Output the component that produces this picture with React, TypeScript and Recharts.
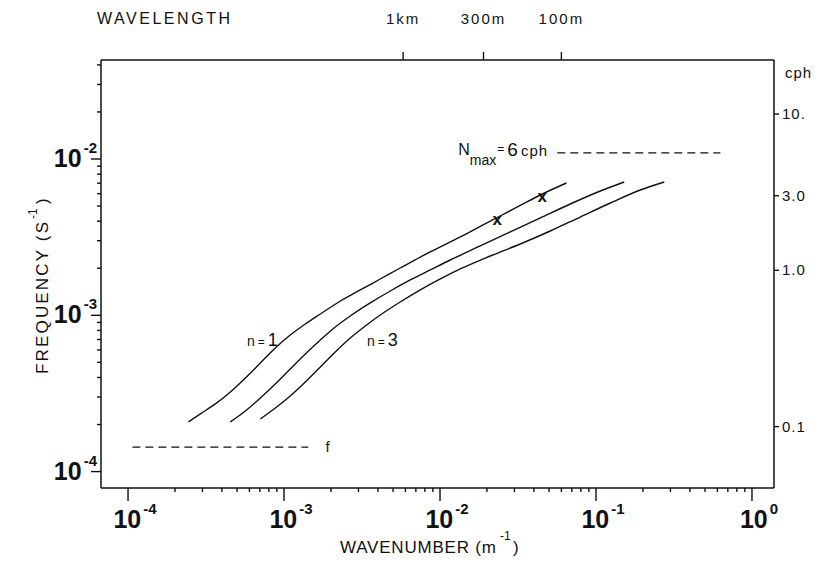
import React from 'react';
import { ComposedChart, Line, Scatter, XAxis, YAxis, ReferenceDot } from 'recharts';

// ---- data (wavenumber k in m^-1, frequency w in s^-1) ----
const n1K = [2.44e-4, 2.91e-4, 3.63e-4, 4.53e-4, 5.65e-4, 7.05e-4, 8.79e-4, 1.096e-3, 1.369e-3, 1.71e-3, 2.3e-3, 3.08e-3, 4.14e-3, 5.56e-3, 7.48e-3, 1.005e-2, 1.349e-2, 1.811e-2, 2.43e-2, 3.27e-2, 4.4e-2, 6.46e-2];
const n1W = [2.08e-4, 2.34e-4, 2.71e-4, 3.23e-4, 3.97e-4, 4.95e-4, 6.18e-4, 7.48e-4, 8.8e-4, 1.019e-3, 1.234e-3, 1.452e-3, 1.707e-3, 2.007e-3, 2.36e-3, 2.735e-3, 3.17e-3, 3.7e-3, 4.318e-3, 5.041e-3, 5.884e-3, 7.023e-3];

const n2K = [4.53e-4, 5.65e-4, 7.05e-4, 8.79e-4, 1.096e-3, 1.369e-3, 1.71e-3, 2.13e-3, 2.66e-3, 3.57e-3, 4.8e-3, 6.45e-3, 8.67e-3, 1.164e-2, 1.811e-2, 2.82e-2, 4.4e-2, 6.84e-2, 0.1066, 0.1517];
const n2W = [2.08e-4, 2.441e-4, 2.957e-4, 3.635e-4, 4.533e-4, 5.655e-4, 6.95e-4, 8.417e-4, 9.897e-4, 1.199e-3, 1.43e-3, 1.682e-3, 1.95e-3, 2.258e-3, 2.776e-3, 3.412e-3, 4.194e-3, 5.153e-3, 6.242e-3, 7.127e-3];

const n3K = [7.05e-4, 8.79e-4, 1.096e-3, 1.369e-3, 1.71e-3, 2.13e-3, 2.66e-3, 3.32e-3, 4.14e-3, 5.56e-3, 7.48e-3, 1.005e-2, 1.349e-2, 2.1e-2, 3.27e-2, 5.09e-2, 7.92e-2, 0.1236, 0.1923, 0.274];
const n3W = [2.17e-4, 2.552e-4, 3.046e-4, 3.744e-4, 4.669e-4, 5.823e-4, 7.157e-4, 8.543e-4, 1.004e-3, 1.216e-3, 1.452e-3, 1.707e-3, 1.978e-3, 2.395e-3, 2.858e-3, 3.462e-3, 4.254e-3, 5.23e-3, 6.332e-3, 7.127e-3];

const markK = [2.33e-2, 4.53e-2];
const markW = [4.07e-3, 5.71e-3];

const fLineK = [1.066e-4, 1.43e-3];
const fValue = 1.435e-4;
const nMaxK = [5.65e-2, 0.627];
const nMaxValue = 1.093e-2;

const xDomain = [6.71e-5, 1.384];
const yDomain = [7.85e-5, 4.3e-2];
const cphDomain = [0.0405, 22.16];

const xMajor = [1e-4, 1e-3, 1e-2, 1e-1, 1];
const yMajor = [1e-4, 1e-3, 1e-2];
const cphTicks = [0.1, 1, 3, 10];
const cphLabels = ['0.1', '1.0', '3.0', '10.'];
const topTicks = [5.8e-3, 1.9e-2, 6.0e-2];
const topLabels = ['1km', '300m', '100m'];

const minors = (decades: number[], max: number) => {
  const out: number[] = [];
  decades.forEach((d) => {
    for (let m = 2; m <= 9; m++) {
      const v = m * d;
      if (v <= max) out.push(v);
    }
  });
  return out;
};
const xTicks = [...xMajor, ...minors([1e-4, 1e-3, 1e-2, 1e-1], 1.3)].sort((a, b) => a - b);
const yTicks = [...yMajor, ...minors([1e-4, 1e-3, 1e-2], 4.2e-2)].sort((a, b) => a - b);

const pair = (ks: number[], ws: number[]) => ks.map((k, i) => ({ k, w: ws[i] }));
const n1 = pair(n1K, n1W);
const n2 = pair(n2K, n2W);
const n3 = pair(n3K, n3W);
const marks = pair(markK, markW);
const fLine = fLineK.map((k) => ({ k, w: fValue }));
const nMaxLine = nMaxK.map((k) => ({ k, w: nMaxValue }));

const FONT = '"Liberation Sans", Arial, Helvetica, sans-serif';
const INK = '#111';

const isMajor = (v: number) => Math.abs(Math.log10(v) - Math.round(Math.log10(v))) < 1e-6;

const BottomTick = (props: any) => {
  const { x, y, payload } = props;
  const v = payload.value;
  const major = isMajor(v);
  const e = Math.round(Math.log10(v));
  return (
    <g>
      <line x1={x} y1={y} x2={x} y2={y + (major ? 13 : 4)} stroke={INK} strokeWidth={1.4} />
      {major && (
        <text x={x + 7} y={y + 40} textAnchor="middle" fontFamily={FONT} fontWeight="bold" fontSize={25} fill={INK}>
          10
          <tspan dx={2} dy={-14} fontSize={15}>{e === 0 ? '0' : `-${Math.abs(e)}`}</tspan>
        </text>
      )}
    </g>
  );
};

const LeftTick = (props: any) => {
  const { x, y, payload } = props;
  const v = payload.value;
  const major = isMajor(v);
  const e = Math.round(Math.log10(v));
  return (
    <g>
      <line x1={x} y1={y} x2={x - (major ? 10 : 4)} y2={y} stroke={INK} strokeWidth={1.4} />
      {major && (
        <text x={x - 4} y={y + 8} textAnchor="end" fontFamily={FONT} fontWeight="bold" fontSize={25} fill={INK}>
          10
          <tspan dx={2} dy={-14} fontSize={15}>{`-${Math.abs(e)}`}</tspan>
        </text>
      )}
    </g>
  );
};

const RightTick = (props: any) => {
  const { x, y, payload, index } = props;
  const i = cphTicks.indexOf(payload.value);
  return (
    <g>
      <line x1={x} y1={y} x2={x + 5} y2={y} stroke={INK} strokeWidth={1.4} />
      <text x={x + 8} y={y + 5} fontFamily={FONT} fontSize={15} letterSpacing={1} fill={INK}>
        {cphLabels[i >= 0 ? i : index]}
      </text>
    </g>
  );
};

const TopTick = (props: any) => {
  const { x, y, payload, index } = props;
  const i = topTicks.indexOf(payload.value);
  return (
    <g>
      <line x1={x} y1={y} x2={x} y2={y - 8} stroke={INK} strokeWidth={1.4} />
      <text x={x} y={24} textAnchor="middle" fontFamily={FONT} fontSize={15} letterSpacing={2} fill={INK}>
        {topLabels[i >= 0 ? i : index]}
      </text>
    </g>
  );
};

const XMark = (props: any) => {
  const { cx, cy } = props;
  return (
    <text x={cx} y={cy + 5} textAnchor="middle" fontFamily={FONT} fontWeight="bold" fontSize={17} fill={INK}>
      x
    </text>
  );
};

export default function App() {
  return (
    <div style={{ position: 'absolute', left: 0, top: 0, width: 820, height: 565, background: '#fff' }}>
      <ComposedChart width={820} height={565} margin={{ top: 0, right: 0, bottom: 0, left: 0 }}>
        <XAxis
          xAxisId="bottom"
          dataKey="k"
          type="number"
          scale="log"
          domain={xDomain}
          allowDataOverflow
          ticks={xTicks}
          interval={0}
          tickSize={0}
          tickMargin={0}
          height={77}
          tick={<BottomTick />}
          axisLine={{ stroke: INK, strokeWidth: 1.5 }}
        />
        <XAxis
          xAxisId="top"
          orientation="top"
          dataKey="k"
          type="number"
          scale="log"
          domain={xDomain}
          allowDataOverflow
          ticks={topTicks}
          interval={0}
          tickSize={0}
          tickMargin={0}
          height={60}
          tick={<TopTick />}
          axisLine={{ stroke: INK, strokeWidth: 1.5 }}
        />
        <YAxis
          yAxisId="left"
          dataKey="w"
          type="number"
          scale="log"
          domain={yDomain}
          allowDataOverflow
          ticks={yTicks}
          interval={0}
          tickSize={0}
          tickMargin={0}
          width={101}
          tick={<LeftTick />}
          axisLine={{ stroke: INK, strokeWidth: 1.5 }}
        />
        <YAxis
          yAxisId="cph"
          orientation="right"
          type="number"
          scale="log"
          domain={cphDomain}
          allowDataOverflow
          ticks={cphTicks}
          interval={0}
          tickSize={0}
          tickMargin={0}
          width={46}
          tick={<RightTick />}
          axisLine={{ stroke: INK, strokeWidth: 1.5 }}
        />

        <Line xAxisId="bottom" yAxisId="left" data={n1} dataKey="w" type="monotone" stroke={INK} strokeWidth={1.4} dot={false} isAnimationActive={false} />
        <Line xAxisId="bottom" yAxisId="left" data={n2} dataKey="w" type="monotone" stroke={INK} strokeWidth={1.4} dot={false} isAnimationActive={false} />
        <Line xAxisId="bottom" yAxisId="left" data={n3} dataKey="w" type="monotone" stroke={INK} strokeWidth={1.4} dot={false} isAnimationActive={false} />
        <Line xAxisId="top" yAxisId="left" data={fLine} dataKey="w" stroke={INK} strokeWidth={1.3} strokeDasharray="8 5" dot={false} isAnimationActive={false} />
        <Line xAxisId="top" yAxisId="left" data={nMaxLine} dataKey="w" stroke={INK} strokeWidth={1.3} strokeDasharray="8 5" dot={false} isAnimationActive={false} />
        <Scatter xAxisId="bottom" yAxisId="left" data={marks} dataKey="w" shape={<XMark />} isAnimationActive={false} />

        <ReferenceDot xAxisId="bottom" yAxisId="left" x={7.26e-4} y={6.95e-4} r={0}
          shape={(p: any) => (
            <text x={p.cx} y={p.cy + 6} textAnchor="middle" fontFamily={FONT} fill={INK}>
              <tspan fontSize={14}>n</tspan><tspan fontSize={12} dx={3}>=</tspan><tspan fontSize={18} dx={3}>1</tspan>
            </text>
          )} />
        <ReferenceDot xAxisId="bottom" yAxisId="left" x={4.27e-3} y={6.95e-4} r={0}
          shape={(p: any) => (
            <text x={p.cx} y={p.cy + 6} textAnchor="middle" fontFamily={FONT} fill={INK}>
              <tspan fontSize={14}>n</tspan><tspan fontSize={12} dx={3}>=</tspan><tspan fontSize={18} dx={3}>3</tspan>
            </text>
          )} />
        <ReferenceDot xAxisId="bottom" yAxisId="left" x={1.9e-3} y={fValue} r={0}
          shape={(p: any) => (
            <text x={p.cx} y={p.cy + 5} textAnchor="middle" fontFamily={FONT} fontSize={15} fill={INK}>f</text>
          )} />
        <ReferenceDot xAxisId="bottom" yAxisId="left" x={1.31e-2} y={nMaxValue} r={0}
          shape={(p: any) => (
            <text x={p.cx} y={p.cy + 2} fontFamily={FONT} fill={INK}>
              <tspan fontSize={16}>N</tspan>
              <tspan fontSize={14} dy={10}>max</tspan>
              <tspan fontSize={12} dy={-12} dx={1}>=</tspan>
              <tspan fontSize={19} dy={3} dx={3}>6</tspan>
              <tspan fontSize={15} dx={3} letterSpacing={1}>cph</tspan>
            </text>
          )} />

        <text x={97} y={24} fontFamily={FONT} fontSize={16} textLength={133} lengthAdjust="spacing" fill={INK}>WAVELENGTH</text>
        <text x={785} y={78} fontFamily={FONT} fontSize={15} letterSpacing={1} fill={INK}>cph</text>
        <text x={340} y={553} fontFamily={FONT} fontSize={17} textLength={156} lengthAdjust="spacing" fill={INK}>WAVENUMBER (m</text>
        <text x={500} y={540} fontFamily={FONT} fontSize={12} fill={INK}>-1</text>
        <text x={513} y={553} fontFamily={FONT} fontSize={17} fill={INK}>)</text>
        <g transform="translate(48,374) rotate(-90)">
          <text x={0} y={0} fontFamily={FONT} fontSize={17} textLength={152} lengthAdjust="spacing" fill={INK}>FREQUENCY (S</text>
          <text x={155} y={-11} fontFamily={FONT} fontSize={12} fill={INK}>-1</text>
          <text x={170} y={0} fontFamily={FONT} fontSize={17} fill={INK}>)</text>
        </g>
      </ComposedChart>
    </div>
  );
}
